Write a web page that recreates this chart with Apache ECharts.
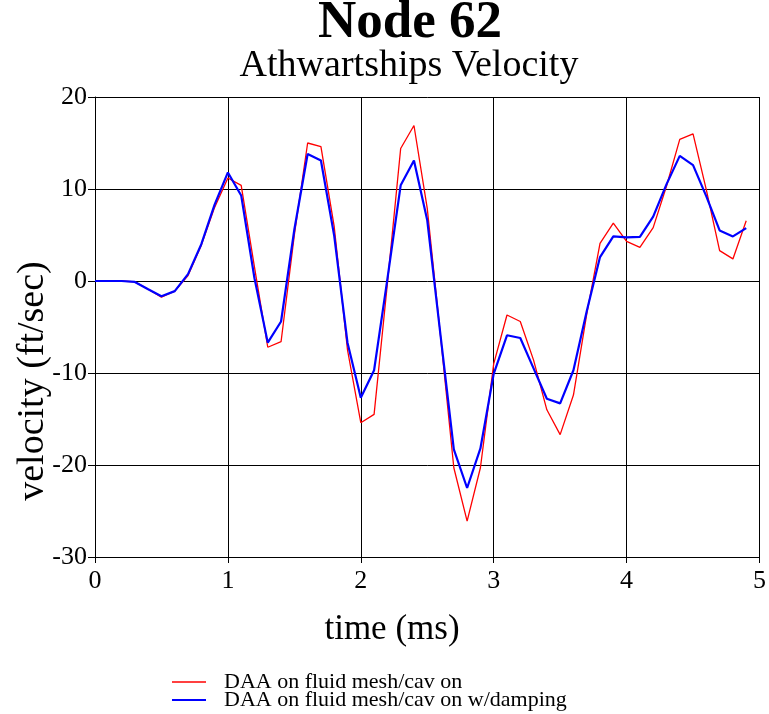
<!DOCTYPE html>
<html>
<head>
<meta charset="utf-8">
<script src="https://cdn.jsdelivr.net/npm/echarts@6/dist/echarts.min.js"></script>
<style>
html,body{margin:0;padding:0;background:#fff;}
#chart{width:769px;height:714px;}
</style>
</head>
<body>
<div id="chart"></div>
<script>
var titleText = 'Node 62';
var subtitleText = 'Athwartships Velocity';
var xAxisName = 'time (ms)';
var yAxisName = 'velocity (ft/sec)';
var seriesNames = ['DAA on fluid mesh/cav on', 'DAA on fluid mesh/cav on w/damping'];

var times = [0.0,0.1,0.2,0.3,0.4,0.5,0.6,0.7,0.8,0.9,
             1.0,1.1,1.2,1.3,1.4,1.5,1.6,1.7,1.8,1.9,
             2.0,2.1,2.2,2.3,2.4,2.5,2.6,2.7,2.8,2.9,
             3.0,3.1,3.2,3.3,3.4,3.5,3.6,3.7,3.8,3.9,
             4.0,4.1,4.2,4.3,4.4,4.5,4.6,4.7,4.8,4.9];

var velCavOn = [0,0,0,-0.1,-0.9,-1.75,-1.1,0.6,3.9,8.0,
                11.2,10.4,1.5,-7.2,-6.6,5.0,15.0,14.6,5.9,-7.5,
                -15.4,-14.5,-0.3,14.4,16.9,7.9,-6.0,-20.3,-26.1,-20.3,
                -9.0,-3.7,-4.4,-8.6,-14.0,-16.7,-12.4,-3.6,4.1,6.3,
                4.3,3.65,5.8,10.3,15.4,16.0,9.9,3.3,2.4,6.55];

var velDamping = [0,0,0,-0.1,-0.9,-1.65,-1.1,0.75,4.0,8.3,
                  11.8,9.3,0.3,-6.7,-4.4,5.6,13.8,13.1,4.9,-6.7,
                  -12.7,-9.7,0.2,10.4,13.1,6.6,-5.9,-18.3,-22.5,-18.2,
                  -10.1,-5.9,-6.2,-9.5,-12.8,-13.3,-9.7,-3.3,2.6,4.85,
                  4.75,4.8,7.0,10.5,13.6,12.6,9.2,5.5,4.85,5.75];

var seriesColors = ['#ff0000', '#0000ff'];

function pairs(xs, ys){ return xs.map(function(x,i){ return [x, ys[i]]; }); }

var FONT = '"Liberation Serif","Times New Roman",serif';

function legendFor(i, top){
  return {
    orient:'vertical', left:172, top:top, itemGap:0, padding:0,
    icon:'rect', itemWidth:34, itemHeight:(i === 0 ? 1.5 : 2),
    data:[{name:seriesNames[i], itemStyle:{color:seriesColors[i]}}],
    textStyle:{color:'#000', fontFamily:FONT, fontSize:22, lineHeight:18, padding:[0,0,0,13]}
  };
}

var chart = echarts.init(document.getElementById('chart'), null, {renderer:'canvas'});
chart.setOption({
  backgroundColor:'#ffffff',
  animation:false,
  grid:{left:95, right:8, top:97, bottom:157, containLabel:false},
  xAxis:{
    type:'value', min:0, max:5, interval:1,
    axisLine:{show:true, onZero:false, lineStyle:{color:'#000', width:1}},
    axisTick:{show:true, length:6, lineStyle:{color:'#000'}},
    axisLabel:{color:'#000', fontFamily:FONT, fontSize:26, margin:11},
    splitLine:{show:true, lineStyle:{color:'#000', width:1}}
  },
  yAxis:{
    type:'value', min:-30, max:20, interval:10,
    axisLine:{show:true, onZero:false, lineStyle:{color:'#000', width:1}},
    axisTick:{show:true, length:7, lineStyle:{color:'#000'}},
    axisLabel:{color:'#000', fontFamily:FONT, fontSize:26, margin:8},
    splitLine:{show:true, lineStyle:{color:'#000', width:1}}
  },
  legend:[legendFor(0, 671), legendFor(1, 689)],
  graphic:[
    {type:'text', x:410, y:-3, style:{text:titleText, font:'bold 53px '+FONT, fill:'#000', align:'center', verticalAlign:'top', textAlign:'center', textVerticalAlign:'top'}},
    {type:'text', x:409, y:47, style:{text:subtitleText, font:'38px '+FONT, fill:'#000', align:'center', verticalAlign:'top', textAlign:'center', textVerticalAlign:'top'}},
    {type:'text', x:392, y:612, style:{text:xAxisName, font:'35px '+FONT, fill:'#000', align:'center', verticalAlign:'top', textAlign:'center', textVerticalAlign:'top'}},
    {type:'text', x:33, y:381, rotation:Math.PI/2, style:{text:yAxisName, font:'38px '+FONT, fill:'#000', align:'center', verticalAlign:'middle', textAlign:'center', textVerticalAlign:'middle'}}
  ],
  series:[
    {name:seriesNames[0], type:'line', data:pairs(times, velCavOn), symbol:'none',
     lineStyle:{color:seriesColors[0], width:1.3}, itemStyle:{color:seriesColors[0]}, z:2},
    {name:seriesNames[1], type:'line', data:pairs(times, velDamping), symbol:'none',
     lineStyle:{color:seriesColors[1], width:2.2}, itemStyle:{color:seriesColors[1]}, z:3}
  ]
});
</script>
</body>
</html>
